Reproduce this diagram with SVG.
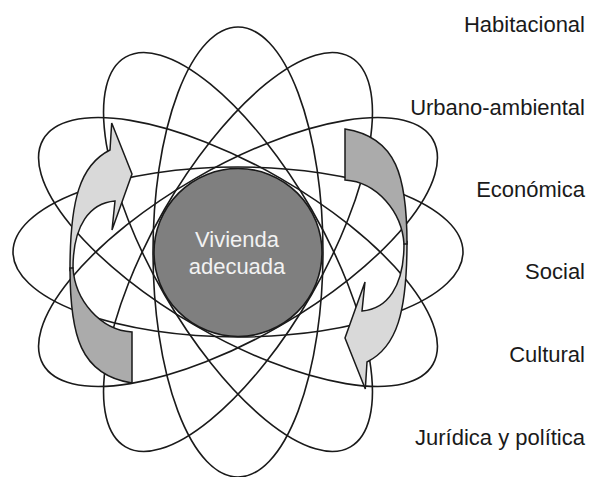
<svg xmlns="http://www.w3.org/2000/svg" xmlns:xlink="http://www.w3.org/1999/xlink" width="589" height="477" viewBox="0 0 589 477">
  <style>
    .orbit { fill: none; stroke: #1a1a1a; stroke-width: 1.6; }
    .label { font-family: "Liberation Sans", Arial, sans-serif; font-size: 22px; fill: #1a1a1a; text-anchor: end; }
    .core-text { font-family: "Liberation Sans", Arial, sans-serif; font-size: 22px; fill: #f2f2f2; text-anchor: middle; }
    .arr-front { fill: #d9d9d9; stroke: #1a1a1a; stroke-width: 1.5; stroke-linejoin: miter; }
    .arr-back { fill: #ababab; stroke: #1a1a1a; stroke-width: 1.5; }
  </style>
  <defs>
    <g id="curved-arrow">
      <path class="arr-front" d="M110,150 L111.7,123 L132,174 L112,230 L115,201 C90,203 73,225 73,268 L70,270 C70,200 80,165 110,150 Z"/>
      <path class="arr-back" d="M70,268 C70,335 80,375 132,383 L132,332 C100,330 75,300 73,268 Z"/>
    </g>
  </defs>
  <rect width="589" height="477" fill="#ffffff"/>
  <g id="orbits">
    <ellipse class="orbit" cx="238" cy="252" rx="225" ry="85"/>
    <ellipse class="orbit" cx="238" cy="252" rx="225" ry="85" transform="rotate(30 238 252)"/>
    <ellipse class="orbit" cx="238" cy="252" rx="225" ry="85" transform="rotate(60 238 252)"/>
    <ellipse class="orbit" cx="238" cy="252" rx="225" ry="85" transform="rotate(90 238 252)"/>
    <ellipse class="orbit" cx="238" cy="252" rx="225" ry="85" transform="rotate(120 238 252)"/>
    <ellipse class="orbit" cx="238" cy="252" rx="225" ry="85" transform="rotate(150 238 252)"/>
  </g>
  <g id="connectors">
    <use xlink:href="#curved-arrow" href="#curved-arrow"/>
    <use xlink:href="#curved-arrow" href="#curved-arrow" transform="rotate(180 238.5 256)"/>
  </g>
  <g id="vivienda-adecuada">
    <circle cx="238" cy="252.5" r="84" fill="#7f7f7f" stroke="#1a1a1a" stroke-width="1.6"/>
    <text class="core-text" x="237" y="247">Vivienda</text>
    <text class="core-text" x="237" y="274">adecuada</text>
  </g>
  <g id="label-habitacional"><text class="label" x="585" y="32">Habitacional</text></g>
  <g id="label-urbano-ambiental"><text class="label" x="585" y="115">Urbano-ambiental</text></g>
  <g id="label-economica"><text class="label" x="585" y="197">Económica</text></g>
  <g id="label-social"><text class="label" x="585" y="279">Social</text></g>
  <g id="label-cultural"><text class="label" x="585" y="362">Cultural</text></g>
  <g id="label-juridica"><text class="label" x="585" y="445">Jurídica y política</text></g>
</svg>
